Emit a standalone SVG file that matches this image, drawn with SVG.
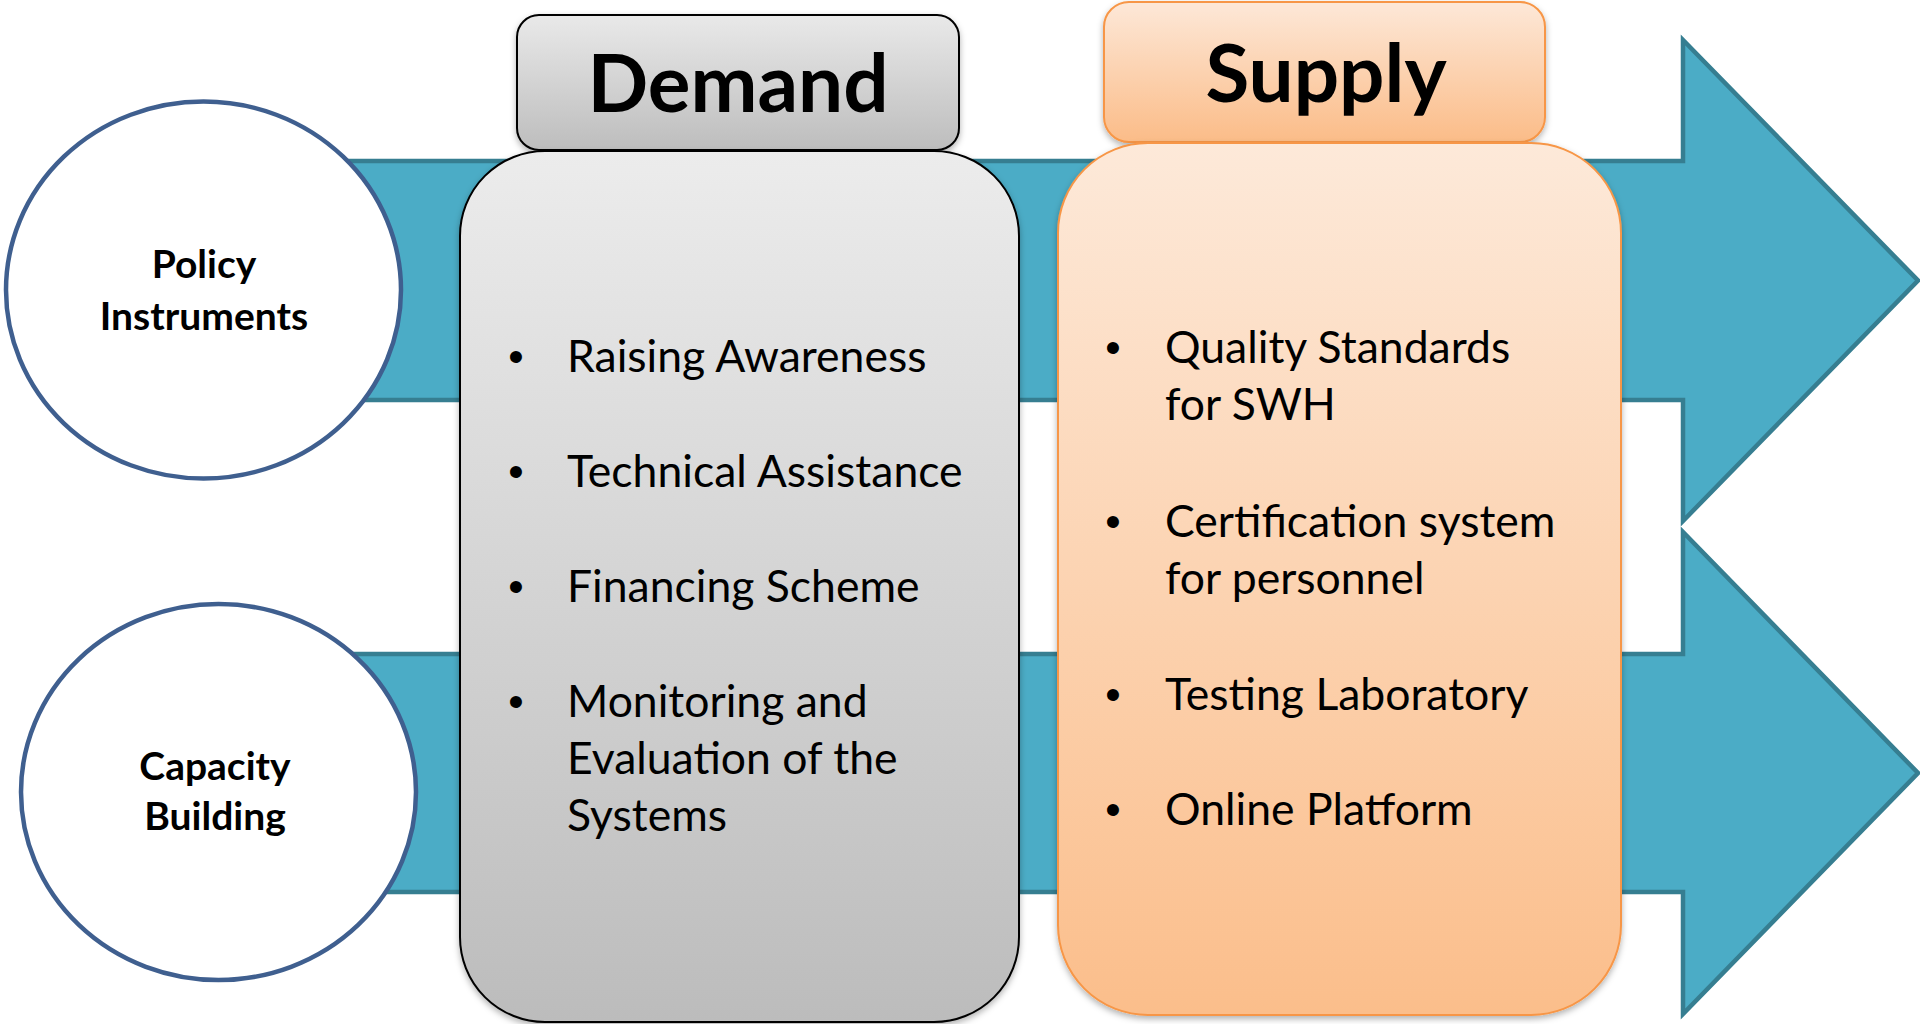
<svg xmlns="http://www.w3.org/2000/svg" width="1920" height="1024" viewBox="0 0 1920 1024">
<defs>
<linearGradient id="gGrey" x1="0" y1="0" x2="0" y2="1"><stop offset="0" stop-color="#ececec"/><stop offset="1" stop-color="#bcbcbc"/></linearGradient>
<linearGradient id="gGreyH" x1="0" y1="0" x2="0" y2="1"><stop offset="0" stop-color="#e9e9e9"/><stop offset="1" stop-color="#bdbdbd"/></linearGradient>
<linearGradient id="gPeach" x1="0" y1="0" x2="0" y2="1"><stop offset="0" stop-color="#fde9d9"/><stop offset="1" stop-color="#fbbe8b"/></linearGradient>
<linearGradient id="gPeachH" x1="0" y1="0" x2="0" y2="1"><stop offset="0" stop-color="#fde8d8"/><stop offset="1" stop-color="#fbbc88"/></linearGradient>
<filter id="sh" x="-10%" y="-10%" width="120%" height="120%"><feDropShadow dx="0" dy="3" stdDeviation="3" flood-color="#000" flood-opacity="0.3"/></filter>
<style>
.arrow{fill:#4bacc6;stroke:#367e91;stroke-width:4.5;stroke-linejoin:miter}
.circ{fill:#fff;stroke:#3f5f8f;stroke-width:4.5}
.lbl{font-family:Lato,"Liberation Sans",sans-serif;font-weight:bold;font-size:39px;fill:#000;text-anchor:middle}
.hdr{font-family:Lato,"Liberation Sans",sans-serif;font-weight:bold;font-size:80px;fill:#000;text-anchor:middle}
.item{font-family:Lato,"Liberation Sans",sans-serif;font-size:44.5px;fill:#000}
.bul{font-family:"Liberation Sans",sans-serif;font-size:44px;fill:#000;text-anchor:middle}
.greyBox{stroke:#000;stroke-width:2}
.peachBox{stroke:#f79646;stroke-width:2}
</style>
</defs>
<rect width="1920" height="1024" fill="#fff"/>
<g id="connectors">
<path class="arrow" d="M300 161 H1683 V40 L1918 280.5 L1683 521 V400 H300 Z"/>
<path class="arrow" d="M320 654 H1683 V532 L1918 773 L1683 1014 V892 H320 Z"/>
</g>
<g id="policy-instruments">
<ellipse class="circ" cx="203.5" cy="290" rx="197.5" ry="188.5"/>
<text class="lbl" x="204" y="278">Policy</text>
<text class="lbl" x="204" y="330">Instruments</text>
</g>
<g id="capacity-building">
<ellipse class="circ" cx="218.5" cy="792" rx="197.5" ry="188"/>
<text class="lbl" x="215" y="780">Capacity</text>
<text class="lbl" x="215" y="830">Building</text>
</g>
<g id="demand-header">
<rect class="greyBox" x="517" y="15" width="442" height="135" rx="22" fill="url(#gGreyH)" filter="url(#sh)"/>
<text class="hdr" x="738" y="112">Demand</text>
</g>
<g id="demand">
<rect class="greyBox" x="460" y="151" width="559" height="871" rx="85" fill="url(#gGrey)" filter="url(#sh)"/>
<text class="bul" x="516" y="372">•</text>
<text class="item" x="567" y="372">Raising Awareness</text>
<text class="bul" x="516" y="487">•</text>
<text class="item" x="567" y="487">Technical Assistance</text>
<text class="bul" x="516" y="602">•</text>
<text class="item" x="567" y="602">Financing Scheme</text>
<text class="bul" x="516" y="717">•</text>
<text class="item" x="567" y="717">Monitoring and</text>
<text class="item" x="567" y="774">Evaluation of the</text>
<text class="item" x="567" y="831">Systems</text>
</g>
<g id="supply-header">
<rect class="peachBox" x="1104" y="2" width="441" height="140" rx="25" fill="url(#gPeachH)" filter="url(#sh)"/>
<text class="hdr" x="1326" y="102">Supply</text>
</g>
<g id="supply">
<rect class="peachBox" x="1058" y="143" width="563" height="872" rx="90" fill="url(#gPeach)" filter="url(#sh)"/>
<text class="bul" x="1113" y="363">•</text>
<text class="item" x="1165" y="363">Quality Standards</text>
<text class="item" x="1165" y="420">for SWH</text>
<text class="bul" x="1113" y="537">•</text>
<text class="item" x="1165" y="537">Certification system</text>
<text class="item" x="1165" y="594">for personnel</text>
<text class="bul" x="1113" y="710">•</text>
<text class="item" x="1165" y="710">Testing Laboratory</text>
<text class="bul" x="1113" y="825">•</text>
<text class="item" x="1165" y="825">Online Platform</text>
</g>
</svg>
